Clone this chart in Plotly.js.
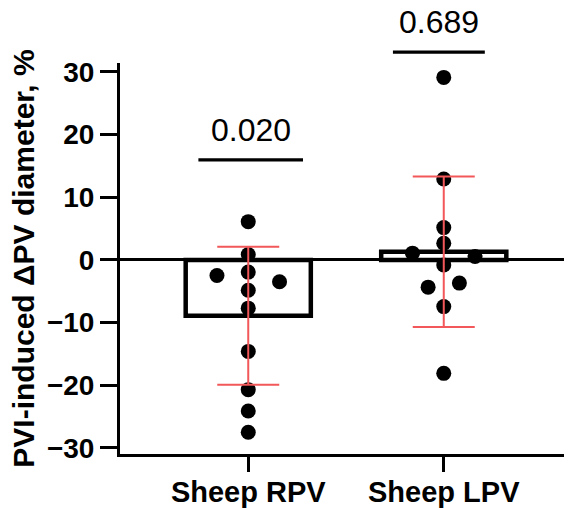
<!DOCTYPE html>
<html>
<head>
<meta charset="utf-8">
<script src="https://cdn.plot.ly/plotly-3.0.1.min.js"></script>
<style>html,body{margin:0;padding:0;background:#fff;}#chart{width:572px;height:508px;}</style>
</head>
<body>
<div id="chart"></div>
<script>
// ---- data ----
var categories = ["Sheep RPV", "Sheep LPV"];
var barMeans = [-8.9, 1.3];
var barSD = [11.0, 12.0];
var rpvValues = [6.1, 0.85, -1.95, -4.85, -7.7, -14.6, -20.7, -24.1, -27.5, -2.5, -3.5];
var lpvValues = [29.1, 12.9, 5.15, 2.65, -0.8, -7.45, -18.1, 1.07, 0.53, -4.35, -3.7];
var pValues = ["0.020", "0.689"];
var yTicks = [-30, -20, -10, 0, 10, 20, 30];

// horizontal scatter offsets (layout only, in category units)
var rpvJitter = [0, 0, 0, 0, 0, 0, 0, 0, 0, -0.16, 0.16];
var lpvJitter = [0, 0, 0, 0, 0, 0, 0, -0.16, 0.16, -0.08, 0.08];

var catIdx = categories.map(function (c, i) { return i; });
var ptsX = rpvJitter.map(function (j) { return 0 + j; })
  .concat(lpvJitter.map(function (j) { return 1 + j; }));
var ptsY = rpvValues.concat(lpvValues);

var FONT = "Liberation Sans, Arial, Helvetica, sans-serif";
var RED = "#f2575a";

var traces = [
  {
    type: "bar", x: catIdx, y: barMeans, width: 0.64,
    marker: { color: "rgba(255,255,255,1)", line: { color: "#000", width: 4.5 } },
    hoverinfo: "skip", showlegend: false
  },
  {
    type: "scatter", mode: "markers", x: ptsX, y: ptsY,
    marker: { color: "#000", size: 15 },
    hoverinfo: "skip", showlegend: false
  },
  {
    type: "scatter", mode: "markers", x: catIdx, y: barMeans,
    marker: { color: "rgba(0,0,0,0)", size: 1 },
    error_y: { type: "data", array: barSD, visible: true, color: RED, thickness: 2, width: 31 },
    hoverinfo: "skip", showlegend: false
  }
];

// significance brackets
var brackets = [
  { x0: -0.255, x1: 0.28, ly: 0.752, ty: 0.829 },
  { x0: 0.74, x1: 1.21, ly: 1.028, ty: 1.105 }
];
var shapes = brackets.map(function (b) {
  return { type: "line", xref: "x", yref: "paper", x0: b.x0, x1: b.x1, y0: b.ly, y1: b.ly,
           line: { color: "#000", width: 3.2 } };
});
var annotations = brackets.map(function (b, i) {
  return { xref: "x", yref: "paper", x: (b.x0 + b.x1) / 2, y: b.ty, text: pValues[i],
           showarrow: false, yanchor: "middle", xanchor: "center",
           font: { family: FONT, size: 32, color: "#000" } };
});

var layout = {
  width: 572, height: 508,
  margin: { l: 120, r: 8, t: 63, b: 54, pad: 0 },
  paper_bgcolor: "#fff", plot_bgcolor: "#fff",
  showlegend: false,
  xaxis: {
    range: [-0.656, 1.615],
    tickmode: "array", tickvals: catIdx, ticktext: categories,
    showgrid: false, zeroline: false,
    showline: true, linecolor: "#000", linewidth: 3,
    ticks: "outside", ticklen: 15, tickwidth: 3, tickcolor: "#000",
    ticklabelstandoff: -5,
    tickfont: { family: FONT, size: 29, color: "#000", weight: 700 }
  },
  yaxis: {
    range: [-30.96, 31.4],
    tickmode: "array", tickvals: yTicks,
    showgrid: false,
    zeroline: true, zerolinecolor: "#000", zerolinewidth: 3,
    showline: true, linecolor: "#000", linewidth: 3,
    ticks: "outside", ticklen: 17, tickwidth: 3, tickcolor: "#000",
    tickfont: { family: FONT, size: 28, color: "#000", weight: 700 },
    title: { text: "PVI-induced ΔPV diameter, %", standoff: 4,
             font: { family: FONT, size: 30, color: "#000", weight: 700 } }
  },
  shapes: shapes,
  annotations: annotations
};

Plotly.newPlot("chart", traces, layout, { staticPlot: true, displayModeBar: false });
</script>
</body>
</html>
